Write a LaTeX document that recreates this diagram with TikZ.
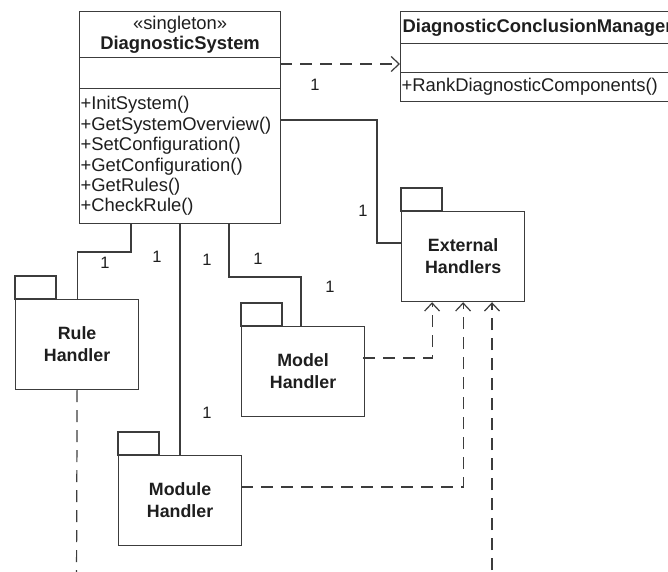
\documentclass[tikz,border=0pt]{standalone}
\usepackage{fontspec}
\setmainfont{Liberation Sans}
\usetikzlibrary{arrows.meta,calc}
\definecolor{ink}{HTML}{3C3C3C}
\definecolor{txt}{HTML}{1E1E1E}
\begin{document}
\begin{tikzpicture}[x=1pt,y=-1pt,
  every node/.style={text=txt, font=\fontsize{18.4}{20.4}\selectfont},
  part/.style={draw=ink, line width=1.2pt, anchor=north west, inner sep=0pt},
  pkg/.style={draw=ink, line width=1.2pt, anchor=north west, minimum width=123,
    minimum height=90, align=center, inner sep=0pt,
    font=\bfseries\fontsize{17.8}{22}\selectfont},
  pkgtab/.style={draw=ink, line width=1.2pt},
  assoc/.style={draw=ink, line width=1.2pt},
  dep/.style={draw=ink, line width=1.2pt, dash pattern=on 12pt off 8pt},
  deparrow/.style={dep, -{Straight Barb[length=8pt,width=15pt,line width=1.2pt]}},
  mult/.style={font=\fontsize{16.5}{16.5}\selectfont, inner sep=0pt}
]
\useasboundingbox (0,0) rectangle (668,571);
\clip (0,0) rectangle (668,571);
\fill[white] (0,0) rectangle (668,571);

% --- class DiagnosticSystem ---
\node[part, minimum width=201, minimum height=46, text width=201, align=center]
  (dsHead) at (79,11) {«singleton»\\\textbf{DiagnosticSystem}};
\node[part, minimum width=201, minimum height=31] (dsAttr) at (79,57) {};
\node[part, minimum width=201, minimum height=135, text width=199, align=left]
  (dsOps) at (79,88)
  {+InitSystem()\\+GetSystemOverview()\\+SetConfiguration()\\+GetConfiguration()\\+GetRules()\\+CheckRule()};

% --- class DiagnosticConclusionManager ---
\node[part, minimum width=280, minimum height=32, text width=276, align=left,
  font=\bfseries\fontsize{18.4}{20.4}\selectfont]
  (dcmHead) at (400,11) {DiagnosticConclusionManager};
\node[part, minimum width=280, minimum height=29] (dcmAttr) at (400,43) {};
\node[part, minimum width=280, minimum height=29, text width=278, align=left]
  (dcmOps) at (400,72) {+RankDiagnosticComponents()};

% --- packages ---
\node[pkg] (ruleH) at (15,299) {Rule\\Handler};
\node[pkg] (moduleH) at (118,455) {Module\\Handler};
\node[pkg] (modelH) at (241,326) {Model\\Handler};
\node[pkg] (extH) at (401,211) {External\\Handlers};
\foreach \p in {ruleH,moduleH,modelH,extH}
  \draw[pkgtab] (\p.north west) rectangle ++(41,-23);

% --- ports ---
\coordinate (dsDep) at (280,64);
\coordinate (dsOvr) at (280,120);
\coordinate (dsR) at (131,223);
\coordinate (dsM) at (180,223);
\coordinate (dsL) at (229,223);
\coordinate (extW) at (401,243);
\coordinate (mdlOut) at (363,358);
\coordinate (modOut) at (241,487);
\coordinate (extIn) at (492,590);
\coordinate (ruleOut) at (76.5,590);

% --- associations ---
\draw[assoc] (dsR) |- (77,252) -- (77,252 -| ruleH.north) -- (ruleH.north);
\draw[assoc] (dsM) -- (dsM |- moduleH.north);
\draw[assoc] (dsL) |- (301,277) -- (301,277 |- modelH.north);
\draw[assoc] (dsOvr) -| (377,243) -- (extW);

% --- dependencies ---
\draw[deparrow] (dsDep) -- (dsDep -| dcmAttr.west);
\draw[deparrow] (mdlOut) -| ($(extH.south)+(-31,0)$);
\draw[deparrow] (modOut) -| (extH.south);
\draw[deparrow] (extIn) -- (extIn |- extH.south);
\draw[dep] (ruleH.south) -- (ruleOut);

% --- multiplicities ---
\node[mult] (m1) at (315,85) {1};
\node[mult] (m2) at (363,211) {1};
\node[mult] (m3) at (105,263) {1};
\node[mult] (m4) at (157,257) {1};
\node[mult] (m5) at (207,260) {1};
\node[mult] (m6) at (258,259) {1};
\node[mult] (m7) at (330,287) {1};
\node[mult] (m8) at (207,413) {1};
\end{tikzpicture}
\end{document}
